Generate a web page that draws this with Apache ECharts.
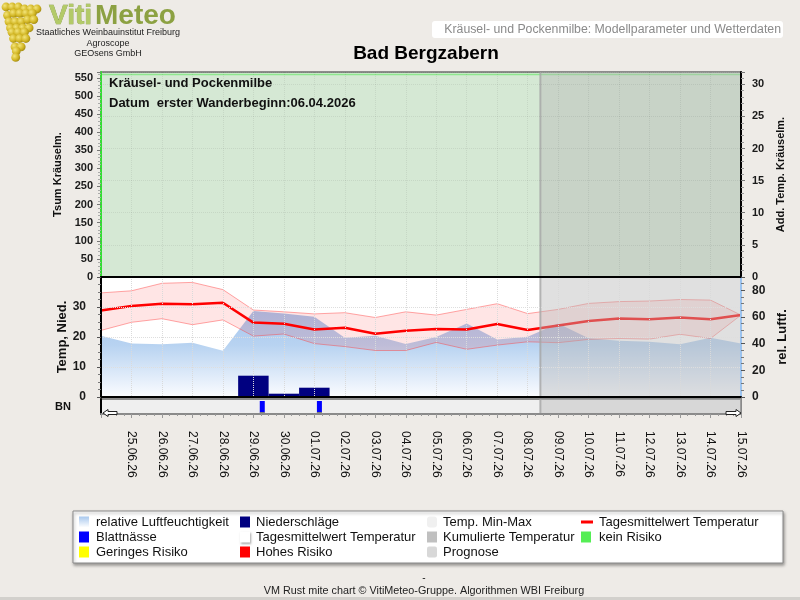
<!DOCTYPE html>
<html><head><meta charset="utf-8">
<script src="https://cdn.jsdelivr.net/npm/echarts/dist/echarts.min.js"></script>
<style>html,body{margin:0;padding:0;background:#eeebe7;}#main{width:800px;height:600px;}</style>
</head><body><div id="main"></div>
<script>
// ---------- data ----------
const dates = ['24.06.26','25.06.26','26.06.26','27.06.26','28.06.26','29.06.26','30.06.26','01.07.26','02.07.26','03.07.26','04.07.26','05.07.26','06.07.26','07.07.26','08.07.26','09.07.26','10.07.26','11.07.26','12.07.26','13.07.26','14.07.26','15.07.26'];
const tempMean = [28.8,30.3,31.1,30.9,31.4,24.8,24.4,22.5,23.1,21.1,22.1,22.7,22.5,24.3,22.3,23.8,25.3,26.2,25.9,26.5,25.9,27.3];
const tempMax  = [34.7,35.4,37.9,38.2,35.8,29.0,28.4,27.7,28.1,26.5,28.4,27.3,29.2,31.1,27.8,29.2,31.2,31.8,32.0,32.5,32.3,27.3];
const tempMin  = [22.2,24.9,26.1,24.1,25.7,20.3,21.0,17.8,16.8,15.5,15.5,18.2,15.9,17.3,18.4,18.1,19.2,19.5,19.3,20.9,19.5,27.3];
const humidity = [46.0,40.2,39.5,40.7,34.7,64.5,62.7,60.2,44.5,46.0,39.7,45.0,55.2,43.2,45.2,55.2,44.0,42.2,41.5,39.5,44.5,40.2];
const precip   = [0,0,0,0,0,7.1,1.1,3.1,0,0,0,0,0,0,0,0,0,0,0,0,0,0];
const leafWetTimes = ['29.06.26 07:00','01.07.26 04:00'];
const leafWetValues = [1,1];
const forecastStart = '08.07.26 10:00';
const firstWander = '06.04.2026';
const legendLabels = ['relative Luftfeuchtigkeit','Niederschläge','Temp. Min-Max','Tagesmittelwert Temperatur','Blattnässe','Tagesmittelwert Temperatur','Kumulierte Temperatur','kein Risiko','Geringes Risiko','Hohes Risiko','Prognose'];

// ---------- helpers ----------
function parseDay(s){
  const parts = s.split(' ');
  const d = parts[0].split('.').map(Number);
  const t = (parts[1]||'00:00').split(':').map(Number);
  return Date.UTC(2000+d[2], d[1]-1, d[0], t[0], t[1]);
}
const t0 = parseDay(dates[0]);
const dayIdx = s => (parseDay(s)-t0)/86400000;
const lastIdx = dates.length-1;
const progIdx = dayIdx(forecastStart);

const FONT = 'Liberation Sans, Arial, sans-serif';
const chart = echarts.init(document.getElementById('main'));

function overlayItem(params, api){
  const cs = params.coordSys;
  const x0 = api.coord([api.value(0), 0])[0];
  const x1 = api.coord([api.value(1), 0])[0];
  return {type:'group', children:[
    {type:'rect', shape:{x:x0, y:cs.y, width:x1-x0, height:cs.height}, style:{fill:'rgba(184,184,184,0.43)'}},
    {type:'line', shape:{x1:x0, y1:cs.y, x2:x0, y2:cs.y+cs.height}, style:{stroke:'rgba(165,165,165,0.8)', lineWidth:2}}
  ]};
}
function leafItem(params, api){
  const p0 = api.coord([api.value(0), 0]);
  const p1 = api.coord([api.value(0), api.value(1)]);
  return {type:'group', children:[
    {type:'rect', shape:{x:p0[0]-2.5, y:p1[1], width:5, height:p0[1]-p1[1]}, style:{fill:'#0000ff'}},
    {type:'rect', shape:{x:p0[0]-2.5, y:p0[1]-1.5, width:5, height:1.5}, style:{fill:'#ffff00'}}
  ]};
}
// min-max band: one quad per day interval, built from the data through the axis scales
function bandItem(params, api){
  const i = api.value(0);
  const a = api.coord([i, api.value(1)]), b = api.coord([i+1, api.value(3)]);
  const c = api.coord([i+1, api.value(4)]), d = api.coord([i, api.value(2)]);
  return {type:'polygon', shape:{points:[a,b,c,d]}, style:{fill:'rgba(255,0,0,0.1)'}};
}
const bandData = tempMax.slice(0,-1).map((v,i)=>[i, tempMax[i], tempMin[i], tempMax[i+1], tempMin[i+1]]);
// light green top rim of the "kein Risiko" zone
function rimItem(params, api){
  const cs = params.coordSys;
  const x0 = api.coord([api.value(0), 0])[0];
  const x1 = api.coord([api.value(1), 0])[0];
  return {type:'line', shape:{x1:x0, y1:cs.y+2.5, x2:x1, y2:cs.y+2.5}, style:{stroke:'#8ee88e', lineWidth:1.5}};
}

const axisLbl = {fontFamily:FONT, fontWeight:'bold', fontSize:11, color:'#1a1a1a'};
const dotted = c => ({show:true, lineStyle:{type:'dotted', color:c, width:1}});

// legend graphics
const legendIcons = [
  {fill:new echarts.graphic.LinearGradient(0,0,0,1,[{offset:0,color:'#a8c8ee'},{offset:1,color:'#ffffff'}])},
  {fill:'#000080'},
  {fill:'#f0f0f0', r:3},
  {line:'#ff0000'},
  {fill:'#0000ff'},
  {fill:'#ffffff', shadow:true},
  {fill:'#c0c0c0'},
  {fill:'#55ee55'},
  {fill:'#ffff00'},
  {fill:'#ff0000'},
  {fill:'#d8d8d8', r:2}
];
const colIconX = [79, 240, 427, 581];
const colTextX = [96, 256, 443, 599];
const rowY = [522, 537, 552];
const legendGraphics = [{type:'rect', shape:{x:73, y:511, width:710, height:52}, style:{fill:'#ffffff', stroke:'#8a8a8a', lineWidth:1, shadowBlur:3, shadowOffsetX:1, shadowOffsetY:2, shadowColor:'rgba(0,0,0,0.35)'}, z:10}];
legendLabels.forEach((lab, k) => {
  const c = k % 4, r = Math.floor(k / 4);
  const ic = legendIcons[k];
  const ix = colIconX[c], y = rowY[r];
  if (ic.line) {
    legendGraphics.push({type:'rect', shape:{x:ix, y:y-1.5, width:12, height:3}, style:{fill:ic.line}, z:11});
  } else {
    legendGraphics.push({type:'rect', shape:{x:ix, y:y-5.5, width:10, height:11, r:ic.r||0}, style:{fill:ic.fill, shadowBlur:ic.shadow?2:0, shadowOffsetX:ic.shadow?1:0, shadowOffsetY:ic.shadow?1:0, shadowColor:'rgba(0,0,0,0.35)'}, z:11});
  }
  legendGraphics.push({type:'text', x:colTextX[c], y:y, style:{text:lab, font:'13px '+FONT, fill:'#111', verticalAlign:'middle', align:'left'}, z:11});
});

// grape cluster (logo decoration)
const grapes = [];
for (let r = 0; r < 9; r++) {
  const cy = 8 + r*6.3;
  const half = Math.max(2.5, 17 - r*2.1);
  const cx = 23 - r*0.6;
  for (let x = cx-half; x <= cx+half+0.1; x += 6.2) {
    grapes.push({type:'circle', shape:{cx:x, cy:cy+((Math.round(x)%2)?1:-1), r:4.4}, style:{fill:new echarts.graphic.RadialGradient(0.35,0.35,0.8,[{offset:0,color:'#f3e47a'},{offset:0.55,color:'#d2b624'},{offset:1,color:'#8f7a0c'}])}, z:5});
  }
}

const nameStyle = size => ({fontFamily:FONT, fontWeight:'bold', fontSize:size, color:'#111'});

const option = {
  backgroundColor:'#eeebe7',
  animation:false,
  grid:[
    {left:101, right:59, top:72, height:205, show:true, backgroundColor:'#d5e8d4', borderColor:'#6e6e6e', borderWidth:1.5},
    {left:101, right:59, top:277, height:120, show:true, backgroundColor:'#ffffff', borderWidth:0},
    {left:101, right:59, top:399, height:15, show:true, backgroundColor:'#efefef', borderColor:'#8a8a8a', borderWidth:2}
  ],
  xAxis:[
    {gridIndex:0, type:'value', min:0, max:lastIdx, interval:1, z:6,
     axisLine:{show:true, onZero:false, lineStyle:{color:'#000', width:2}}, axisTick:{show:false}, axisLabel:{show:false},
     splitLine:dotted('rgba(0,0,0,0.07)')},
    {gridIndex:1, type:'value', min:0, max:lastIdx, interval:1, z:6,
     axisLine:{show:true, onZero:false, lineStyle:{color:'#000', width:2}}, axisTick:{show:false}, axisLabel:{show:false},
     splitLine:dotted('#dadada')},
    {gridIndex:2, type:'value', min:0, max:lastIdx, interval:1, z:6,
     axisLine:{show:true, onZero:false, lineStyle:{color:'#8a8a8a', width:2}},
     axisTick:{show:true, length:4, lineStyle:{color:'#999'}},
     minorTick:{show:true, splitNumber:4, length:2, lineStyle:{color:'#999'}},
     splitLine:{show:false},
     axisLabel:{rotate:-90, margin:17, fontFamily:FONT, fontSize:12, color:'#111',
       formatter:v => (v>0 && Number.isInteger(v)) ? dates[v] : ''}}
  ],
  yAxis:[
    {gridIndex:0, type:'value', min:0, max:566, interval:50, z:6, name:'Tsum Kräuselm.', nameLocation:'middle', nameRotate:90, nameGap:38,
     nameTextStyle:nameStyle(11),
     axisLine:{show:true, lineStyle:{color:'#33dd33', width:2}},
     axisTick:{show:true, length:4, lineStyle:{color:'#777'}},
     minorTick:{show:true, splitNumber:5, length:3, lineStyle:{color:'#aaa'}},
     splitLine:{show:false},
     axisLabel:Object.assign({margin:8, formatter:v => v%50===0 ? v : ''}, axisLbl)},
    {gridIndex:0, type:'value', min:0, max:31.9, interval:5, position:'right', z:6, name:'Add. Temp. Kräuselm.', nameLocation:'middle', nameRotate:90, nameGap:30,
     nameTextStyle:nameStyle(11),
     axisLine:{show:true, lineStyle:{color:'#000', width:2}},
     axisTick:{show:true, length:4, lineStyle:{color:'#777'}},
     minorTick:{show:true, splitNumber:5, length:3, lineStyle:{color:'#999'}},
     splitLine:dotted('rgba(0,0,0,0.07)'),
     axisLabel:Object.assign({margin:11, formatter:v => v%5===0 ? v : ''}, axisLbl)},
    {gridIndex:1, type:'value', min:0, max:40, interval:10, z:6,
     axisLine:{show:true, lineStyle:{color:'#000', width:2}},
     axisTick:{show:true, length:4, lineStyle:{color:'#555'}},
     minorTick:{show:true, splitNumber:4, length:3, lineStyle:{color:'#777'}},
     splitLine:dotted('#dedede'),
     axisLabel:Object.assign({margin:15, formatter:v => v<40 ? v : ''}, axisLbl, {fontSize:12})},
    {gridIndex:1, type:'value', min:0, max:90, interval:20, position:'right', z:6, name:'rel. Luftf.', nameLocation:'middle', nameRotate:90, nameGap:34,
     nameTextStyle:nameStyle(13),
     axisLine:{show:true, lineStyle:{color:'#9cc3ee', width:2}},
     axisTick:{show:true, length:4, lineStyle:{color:'#555'}},
     minorTick:{show:true, splitNumber:4, length:3, lineStyle:{color:'#777'}},
     splitLine:{show:false},
     axisLabel:Object.assign({margin:11, formatter:v => v%20===0 ? v : ''}, axisLbl, {fontSize:12})},
    {gridIndex:2, type:'value', min:0, max:1.154, z:6,
     axisLine:{show:true, lineStyle:{color:'#000', width:2}}, axisTick:{show:false}, axisLabel:{show:false}, splitLine:{show:false}}
  ],
  series:[
    {name:'kein Risiko', type:'custom', xAxisIndex:0, yAxisIndex:0, z:1, renderItem:rimItem, clip:false, data:[[0, lastIdx]]},
    {name:'relative Luftfeuchtigkeit', type:'line', xAxisIndex:1, yAxisIndex:3, z:1, symbol:'none',
     data:humidity.map((v,i)=>[i,v]), lineStyle:{width:0},
     areaStyle:{opacity:1, color:new echarts.graphic.LinearGradient(0,0,0,1,[{offset:0,color:'#a6c6ee'},{offset:0.4,color:'#b8d3f1'},{offset:1,color:'#fbfcff'}])}},
    {name:'Niederschläge', type:'bar', xAxisIndex:1, yAxisIndex:2, z:2, barWidth:'100%',
     data:precip.map((v,i)=>[i,v]), itemStyle:{color:'#000080'}},
    {name:'Temp. Min-Max', type:'custom', xAxisIndex:1, yAxisIndex:2, z:3, renderItem:bandItem, data:bandData},
    {name:'Temp. Min', type:'line', xAxisIndex:1, yAxisIndex:2, z:3, symbol:'none',
     data:tempMin.map((v,i)=>[i,v]), lineStyle:{color:'rgba(255,60,60,0.45)', width:1}},
    {name:'Temp. Max', type:'line', xAxisIndex:1, yAxisIndex:2, z:3, symbol:'none',
     data:tempMax.map((v,i)=>[i,v]), lineStyle:{color:'rgba(255,60,60,0.45)', width:1}},
    {name:'Tagesmittelwert Temperatur', type:'line', xAxisIndex:1, yAxisIndex:2, z:4, symbol:'none',
     data:tempMean.map((v,i)=>[i,v]), lineStyle:{color:'#ff0000', width:2.5}},
    {name:'Blattnässe', type:'custom', xAxisIndex:2, yAxisIndex:4, z:3, renderItem:leafItem,
     data:leafWetTimes.map((t,k)=>[dayIdx(t), leafWetValues[k]])},
    {name:'Prognose', type:'custom', xAxisIndex:0, yAxisIndex:0, z:5, renderItem:overlayItem, clip:false, data:[[progIdx, lastIdx]]},
    {name:'Prognose2', type:'custom', xAxisIndex:1, yAxisIndex:2, z:5, renderItem:overlayItem, clip:false, data:[[progIdx, lastIdx]]},
    {name:'Prognose3', type:'custom', xAxisIndex:2, yAxisIndex:4, z:5, renderItem:overlayItem, clip:false, data:[[progIdx, lastIdx]]}
  ],
  graphic:[].concat(grapes, [
    {type:'text', x:49, y:16, style:{text:'Viti', font:'bold 28px '+FONT, fill:'#b3ca68', stroke:'#7d9434', lineWidth:0.6, verticalAlign:'middle'}, z:6},
    {type:'text', x:95, y:16, style:{text:'Meteo', font:'bold 28px '+FONT, fill:'#8ca142', verticalAlign:'middle'}, z:6},
    {type:'text', x:108, y:33, style:{text:'Staatliches Weinbauinstitut Freiburg', font:'9px '+FONT, fill:'#222', align:'center', verticalAlign:'middle'}, z:6},
    {type:'text', x:108, y:43.5, style:{text:'Agroscope', font:'9px '+FONT, fill:'#222', align:'center', verticalAlign:'middle'}, z:6},
    {type:'text', x:108, y:53.5, style:{text:'GEOsens GmbH', font:'9px '+FONT, fill:'#222', align:'center', verticalAlign:'middle'}, z:6},
    {type:'rect', shape:{x:432, y:21, width:351, height:17, r:3}, style:{fill:'#ffffff'}, z:5},
    {type:'text', x:781, y:29.5, style:{text:'Kräusel- und Pockenmilbe: Modellparameter und Wetterdaten', font:'12.3px '+FONT, fill:'#8a8a8a', align:'right', verticalAlign:'middle'}, z:6},
    {type:'text', x:426, y:54, style:{text:'Bad Bergzabern', font:'bold 19px '+FONT, fill:'#000', align:'center', verticalAlign:'middle'}, z:6},
    {type:'text', x:109, y:83, style:{text:'Kräusel- und Pockenmilbe', font:'bold 13px '+FONT, fill:'#111', verticalAlign:'middle'}, z:20},
    {type:'text', x:109, y:103, style:{text:'Datum  erster Wanderbeginn:' + firstWander, font:'bold 13px '+FONT, fill:'#111', verticalAlign:'middle'}, z:20},
    {type:'text', x:62, y:337, rotation:Math.PI/2, style:{text:'Temp, Nied.', font:'bold 13px '+FONT, fill:'#111', align:'center', verticalAlign:'middle'}, z:6},
    {type:'text', x:55, y:407, style:{text:'BN', font:'bold 11px '+FONT, fill:'#111', verticalAlign:'middle'}, z:6},
    {type:'polygon', shape:{points:[[103,413],[108,409.5],[108,411.5],[117,411.5],[117,414.5],[108,414.5],[108,416.5]]}, style:{fill:'#fff', stroke:'#222', lineWidth:1}, z:20},
    {type:'polygon', shape:{points:[[741,413],[736,409.5],[736,411.5],[726,411.5],[726,414.5],[736,414.5],[736,416.5]]}, style:{fill:'#fff', stroke:'#222', lineWidth:1}, z:20},
    {type:'text', x:424, y:578, style:{text:'-', font:'10px '+FONT, fill:'#222', align:'center', verticalAlign:'middle'}, z:6},
    {type:'text', x:424, y:591, style:{text:'VM Rust mite chart © VitiMeteo-Gruppe. Algorithmen WBI Freiburg', font:'10.8px '+FONT, fill:'#222', align:'center', verticalAlign:'middle'}, z:6},
    {type:'rect', shape:{x:0, y:597, width:800, height:3}, style:{fill:'#d2d0cc'}, z:6}
  ], legendGraphics)
};
chart.setOption(option);
</script></body></html>
